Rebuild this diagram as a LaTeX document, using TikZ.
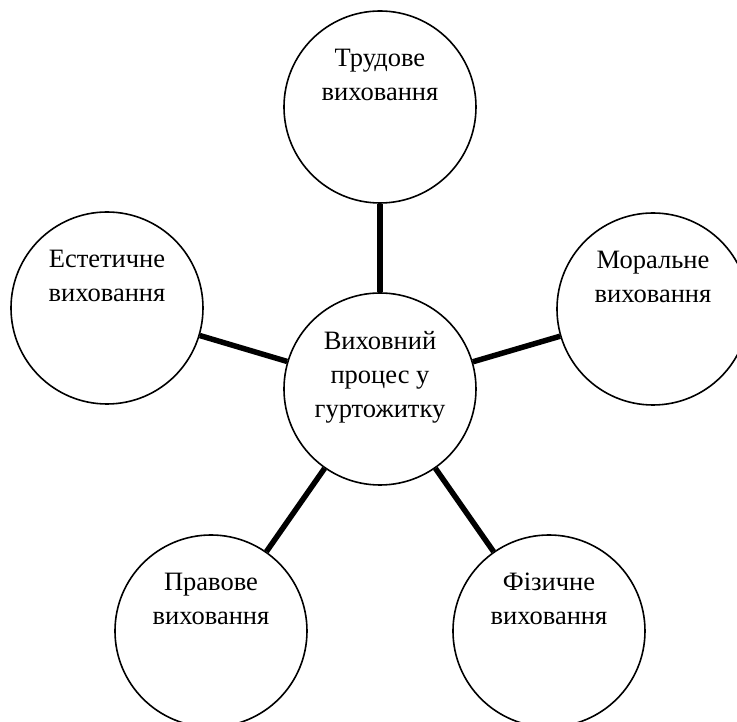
\documentclass[tikz,border=0pt]{standalone}
\usepackage{fontspec}
\setmainfont{Liberation Serif}
\usepackage{tikz}

\tikzset{
  kolo/.style={circle, draw, line width=1.6pt, minimum size=192pt, inner sep=0pt},
  napys/.style={anchor=north, align=center, inner sep=0pt, yshift=-39pt,
    font=\fontsize{26.5}{34}\selectfont},
  zvyazok/.style={line width=5.5pt}
}

\begin{document}
\begin{tikzpicture}[x=1pt, y=1pt]
  \useasboundingbox (-380,-333) rectangle (357,389);
  \node [kolo, label={[napys]north:{Виховний\\процес у\\гуртожитку}}] (proc) at (0,0) {};
  \node [kolo, label={[napys]north:{Трудове\\виховання}}] (trud) at (0,282) {};
  \node [kolo, label={[napys]north:{Естетичне\\виховання}}] (estet) at (-273,81) {};
  \node [kolo, label={[napys]north:{Моральне\\виховання}}] (moral) at (273,80) {};
  \node [kolo, label={[napys]north:{Правове\\виховання}}] (prav) at (-169,-242) {};
  \node [kolo, label={[napys]north:{Фізичне\\виховання}}] (fiz) at (169,-242) {};
  % зв'язки
  \draw [zvyazok] (proc) -- (trud);
  \draw [zvyazok] (proc) -- (estet);
  \draw [zvyazok] (proc) -- (moral);
  \draw [zvyazok] (proc) -- (prav);
  \draw [zvyazok] (proc) -- (fiz);
\end{tikzpicture}
\end{document}
